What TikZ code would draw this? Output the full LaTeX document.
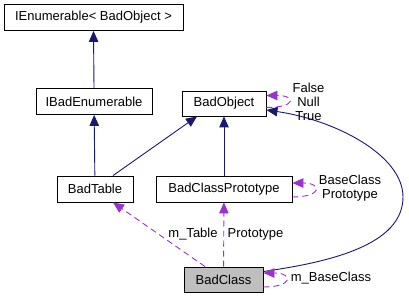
\documentclass[tikz,border=0pt]{standalone}
\usepackage{fontspec}
\setmainfont{Liberation Sans}
\usetikzlibrary{arrows.meta}
\definecolor{inhBlue}{RGB}{25,25,112}
\definecolor{usePurple}{RGB}{154,50,205}
\definecolor{clsGray}{RGB}{191,191,191}

\begin{document}
\begin{tikzpicture}[x=1pt, y=-1pt, line width=0.9pt, font=\fontsize{13}{14}\selectfont, >={Triangle[length=11pt,width=9.5pt]}]
			\tikzset{cls/.style={draw=black,fill=white,text=black,inner sep=0pt,minimum height=26pt}}
			\tikzset{inh/.style={->,draw=inhBlue}}
			\tikzset{use/.style={->,draw=usePurple,dash pattern=on 6pt off 4pt}}
			\tikzset{lbl/.style={align=center,inner sep=0pt,text=black}}
			% Colors: inhBlue for base classes, usePurple for members
			\useasboundingbox (0,0) rectangle (409,299);

			% Classes
			\node[cls, minimum width=179pt] (ienum) at (93.5,17.5) {IEnumerable< BadObject >};
			\node[cls, minimum width=116pt] (ibadenum) at (94,101.5) {IBadEnumerable};
			\node[cls, minimum width=84pt, minimum height=25pt] (badobj) at (224,103.5) {BadObject};
			\node[cls, minimum width=76pt] (badtable) at (95,189) {BadTable};
			\node[cls, minimum width=136pt] (proto) at (224,189) {BadClassPrototype};
			\node[cls, minimum width=79pt, minimum height=25pt, fill=clsGray] (badclass) at (223.5,279.5) {BadClass};

			% Inheritance
			\path
				(ibadenum.north)	edge [inh]	(ienum.south)
				(badtable)	edge [inh]	(ibadenum)
				([xshift=18pt]badtable.north)	edge [inh]	([xshift=-27pt]badobj.south)
				(proto)	edge [inh]	(badobj)
				;
			\draw[inh] ([yshift=8pt]badclass.east) .. controls (330,262) and (403,245) .. (403,197)
				.. controls (403,155) and (335,120) .. ([yshift=-6.5pt]badobj.east);

			% Members
			\path
				([xshift=-18.5pt]badclass.north)	edge [use]	([xshift=18pt]badtable.south)
				(badclass)	edge [use]	(proto)
				;
			\draw[use] ([yshift=-4pt]badobj.east) .. controls +(30,0) and +(30,0) .. ([yshift=8pt]badobj.east);
			\draw[use] ([yshift=-8pt]proto.east) .. controls +(30,0) and +(30,0) .. ([yshift=6pt]proto.east);
			\draw[use] ([yshift=-7.5pt]badclass.east) .. controls +(30,0) and +(30,0) .. ([yshift=6.5pt]badclass.east);

			% Member names
			\node[lbl] (tablename) at (193,234) {m\_Table};
			\node[lbl] (protoname) at (255.5,234) {Prototype};
			\node[lbl] (objnames) at (308.5,102) {False\\Null\\True};
			\node[lbl] (protonames) at (350,188) {BaseClass\\Prototype};
			\node[lbl] (basename) at (331,278) {m\_BaseClass};
	\end{tikzpicture}
\end{document}
